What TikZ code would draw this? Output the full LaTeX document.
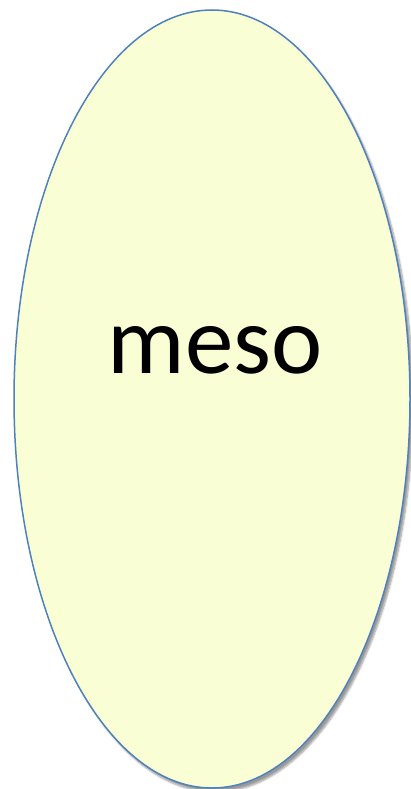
\documentclass[tikz,border=0pt]{standalone}
\usepackage{fontspec}
\setmainfont{Carlito}
\usetikzlibrary{shapes.geometric,shadows.blur}
\definecolor{fillc}{HTML}{FAFED4}
\definecolor{linec}{HTML}{4F81BD}
\tikzset{blob/.style={ellipse,draw=linec,line width=1.5pt,fill=fillc,minimum width=396pt,minimum height=778pt,inner sep=0pt,blur shadow={shadow xshift=3pt,shadow yshift=-4pt,shadow blur steps=6,shadow opacity=40}}}
\begin{document}
\begin{tikzpicture}[x=1pt,y=1pt]
\useasboundingbox (0,0) rectangle (410,-789);
\node[blob] (e) at (212,-399) {};
\node[anchor=base,font=\fontsize{97}{100}\selectfont,inner sep=0pt] (t) at (215,-373) {meso};
\end{tikzpicture}
\end{document}
